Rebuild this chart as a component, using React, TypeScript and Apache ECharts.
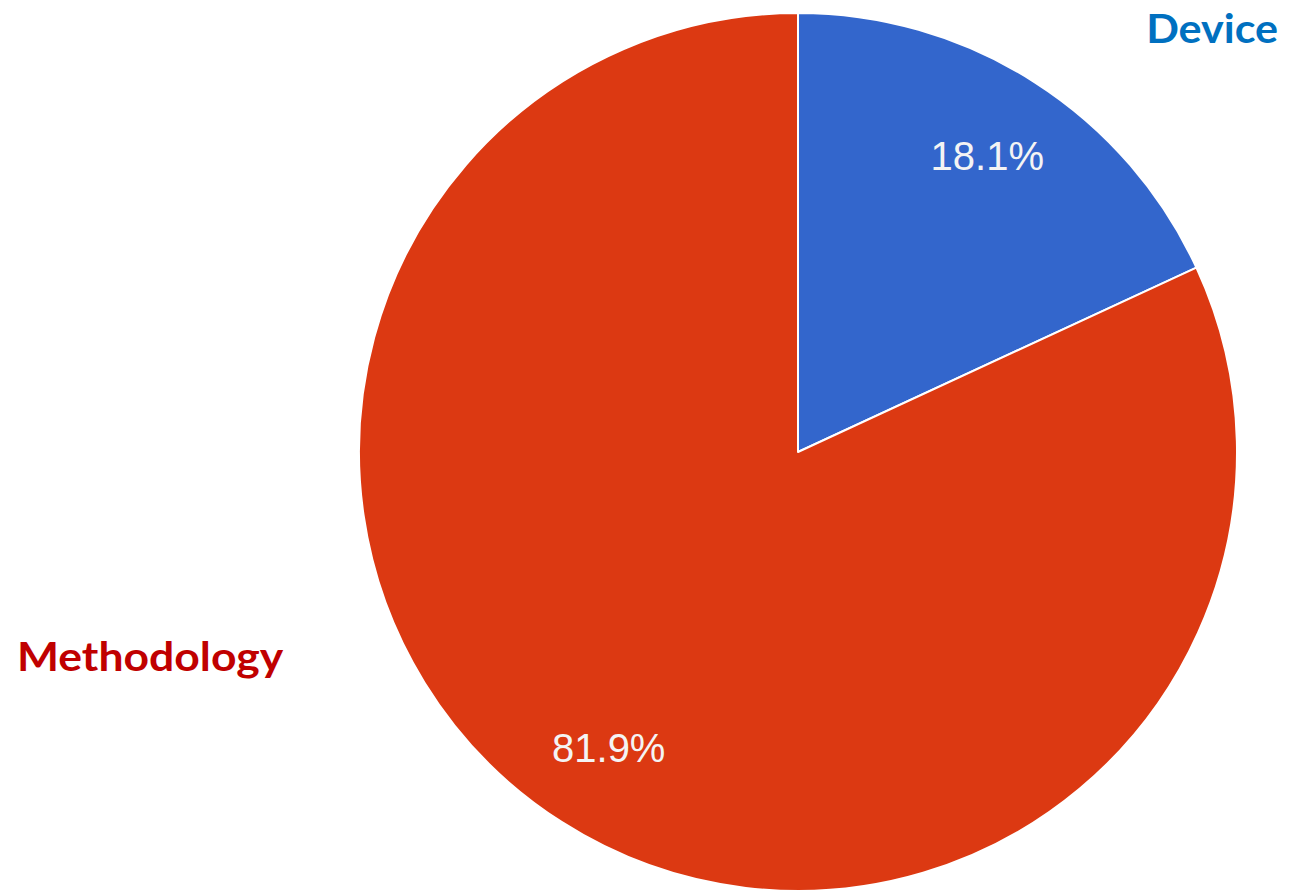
import React, { useEffect, useRef } from "react";
import * as echarts from "echarts";

const categories = ["Device", "Methodology"];
const values = [18.1, 81.9];
const sliceColors = ["#3366CC", "#DC3912"];
const categoryTextColors = ["#0070C0", "#C00000"];

export default function App() {
  const ref = useRef<HTMLDivElement>(null);
  useEffect(() => {
    document.body.style.margin = "0";
    if (!ref.current) return;
    const chart = echarts.init(ref.current, null, { renderer: "svg" });
    const data = categories.map((name, i) => ({
      name,
      value: values[i],
      itemStyle: { color: sliceColors[i] },
    }));
    chart.setOption({
      animation: false,
      backgroundColor: "#ffffff",
      series: [
        {
          type: "pie",
          center: [798, 452],
          radius: [0, 439],
          startAngle: 90,
          clockwise: true,
          silent: true,
          label: { show: false },
          labelLine: { show: false },
          itemStyle: { borderColor: "#ffffff", borderWidth: 2 },
          data,
        },
        {
          type: "pie",
          center: [798, 452],
          radius: [258, 439],
          startAngle: 90,
          clockwise: true,
          silent: true,
          percentPrecision: 1,
          itemStyle: { color: "rgba(0,0,0,0)", borderWidth: 0 },
          label: {
            show: true,
            position: "inside",
            formatter: "{d}%",
            color: "#f4f4f4",
            fontFamily: "Liberation Sans",
            fontSize: 40,
            textBorderWidth: 0,
          },
          labelLine: { show: false },
          data: categories.map((name, i) => ({ name, value: values[i] })),
        },
      ],
      graphic: [
        {
          type: "text",
          x: 1278,
          y: 7,
          scaleX: 1.05,
          style: {
            text: categories[0],
            fill: categoryTextColors[0],
            font: "bold 41px Lato, 'Open Sans', sans-serif",
            align: "right",
            verticalAlign: "top",
          },
        },
        {
          type: "text",
          x: 17,
          y: 635,
          scaleX: 1.085,
          style: {
            text: categories[1],
            fill: categoryTextColors[1],
            font: "bold 41px Lato, 'Open Sans', sans-serif",
            align: "left",
            verticalAlign: "top",
          },
        },
      ],
    });
    return () => chart.dispose();
  }, []);
  return <div ref={ref} style={{ width: 1289, height: 892 }} />;
}
